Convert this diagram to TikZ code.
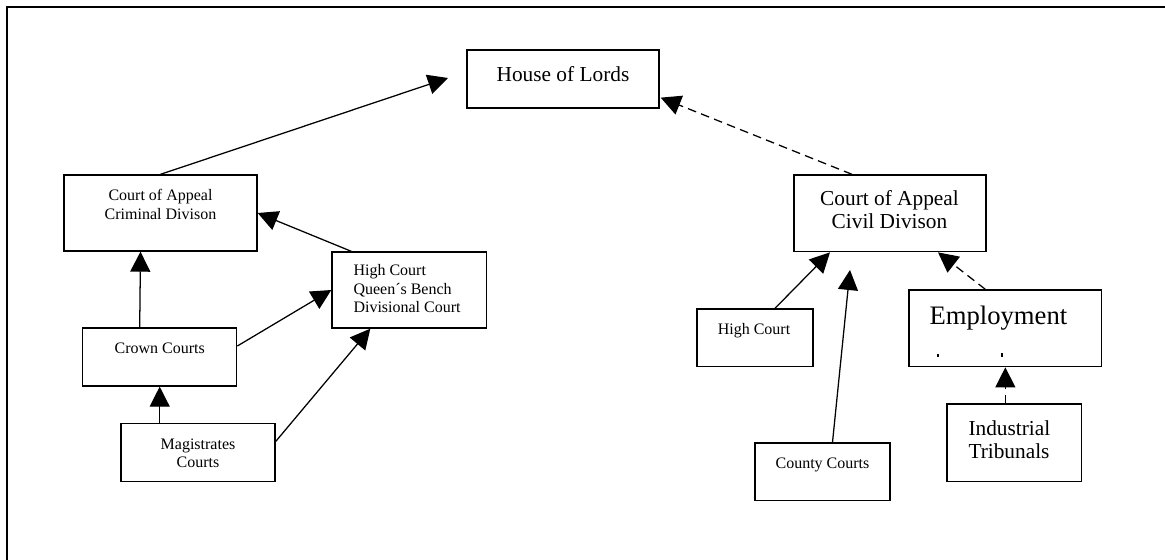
\documentclass[tikz,border=0pt]{standalone}
\usepackage{fontspec}
\setmainfont{Liberation Serif}
\usetikzlibrary{arrows.meta,fit}

\tikzset{every picture/.style={line width=0.75pt}}
\tikzset{
  court/.style={draw, line width=1pt, inner sep=0pt},
  lbl/.style={inner sep=0pt, anchor=base},
  lblw/.style={inner sep=0pt, anchor=base west},
  link/.style={line width=0.95pt, -{Triangle[length=15pt,width=15pt]}},
  dlink/.style={link, dash pattern=on 6.5pt off 4pt},
}
\newcommand{\smallfont}{\fontsize{12}{13.8}\selectfont}
\newcommand{\bigfont}{\fontsize{16}{17.5}\selectfont}
\newcommand{\hugefont}{\fontsize{20}{23}\selectfont}
\newcommand{\courtlines}[2]{\begin{tabular}[t]{@{}#1@{}}#2\end{tabular}}

\begin{document}
\begin{tikzpicture}[x=0.75pt,y=0.75pt,yscale=-1,xscale=1]
\useasboundingbox (0,0) rectangle (1165,560);

%Frame
\draw [line width=1.1pt] (1165,7) -- (7,7) -- (7,560);

%Boxes
\node [court, fit={(467,50) (659,108)}] (lords) {};
\node [court, fit={(64,175) (257,251)}] (crim) {};
\node [court, fit={(332,252) (486.7,328)}] (hcqb) {};
\node [court, fit={(82.7,328) (236.7,386)}] (crown) {};
\node [court, fit={(121,423.3) (275,481.7)}] (mag) {};
\node [court, fit={(794,175) (986,251.7)}] (civil) {};
\node [court, fit={(697,309) (813,366.7)}] (highc) {};
\node [court, fit={(755,443) (890,500.7)}] (county) {};
\node [court, fit={(909,290) (1101.7,366.7)}] (employ) {};
\node [court, fit={(947,404) (1081.7,481.7)}] (ind) {};

% Text Node
\node [lbl, font=\bigfont] (lordstxt) at (563,82) {House of Lords};
\node [lbl, font=\smallfont] (crimtxt) at (160.5,200.7) {\courtlines{c}{Court of Appeal\\Criminal Divison}};
\node [lblw, font=\smallfont] (hcqbtxt) at (353,275.7) {\courtlines{l}{High Court\\Queen´s Bench\\Divisional Court}};
\node [lbl, font=\smallfont] (crowntxt) at (159.7,353) {Crown Courts};
\node [lbl, font=\smallfont] (magtxt) at (198,449) {\courtlines{c}{Magistrates\\Courts}};
\node [lbl, font=\bigfont] (civiltxt) at (889.5,205) {\courtlines{c}{Court of Appeal\\Civil Divison}};
\node [lbl, font=\smallfont] (highctxt) at (754,334) {High Court};
\node [lbl, font=\smallfont] (countytxt) at (822.5,468) {County Courts};
\node [lblw, font=\hugefont] (employtxt) at (929,324) {Employment};
\node [lblw, font=\bigfont] (indtxt) at (968,435) {\courtlines{l}{Industrial\\Tribunals}};
\fill (937,354.3) rectangle (938.6,356.5);
\fill (1001,352.8) rectangle (1002.6,356.5);

%Connectors
\coordinate (lordsin) at (448,78);
\coordinate (civilin) at (850,270);
\draw [link] (crim.north) -- (lordsin);
\draw [dlink] ([shift={(-38,0)}]civil.north) -- ([shift={(1,-11)}]lords.south east);
\draw [link] ([shift={(20,0)}]hcqb.north west) -- (crim.east);
\draw [link] ([shift={(-20,0)}]crown.north) -- ([shift={(-20,0)}]crim.south);
\draw [link] ([shift={(0,-11)}]crown.east) -- (hcqb.west);
\draw [link] (mag.north -| crown.south) -- (crown.south);
\draw [link] ([shift={(0,-11)}]mag.east) -- ([shift={(-39,0)}]hcqb.south);
\draw [link] ([shift={(20,0)}]highc.north) -- ([shift={(-60,0)}]civil.south);
\draw [link] ([shift={(10,0)}]county.north) -- (civilin);
\draw [dlink] ([shift={(-20,0)}]employ.north) -- ([shift={(48,0)}]civil.south);
\draw [dlink] (ind.north -| employ.south) -- (employ.south);

\end{tikzpicture}
\end{document}
